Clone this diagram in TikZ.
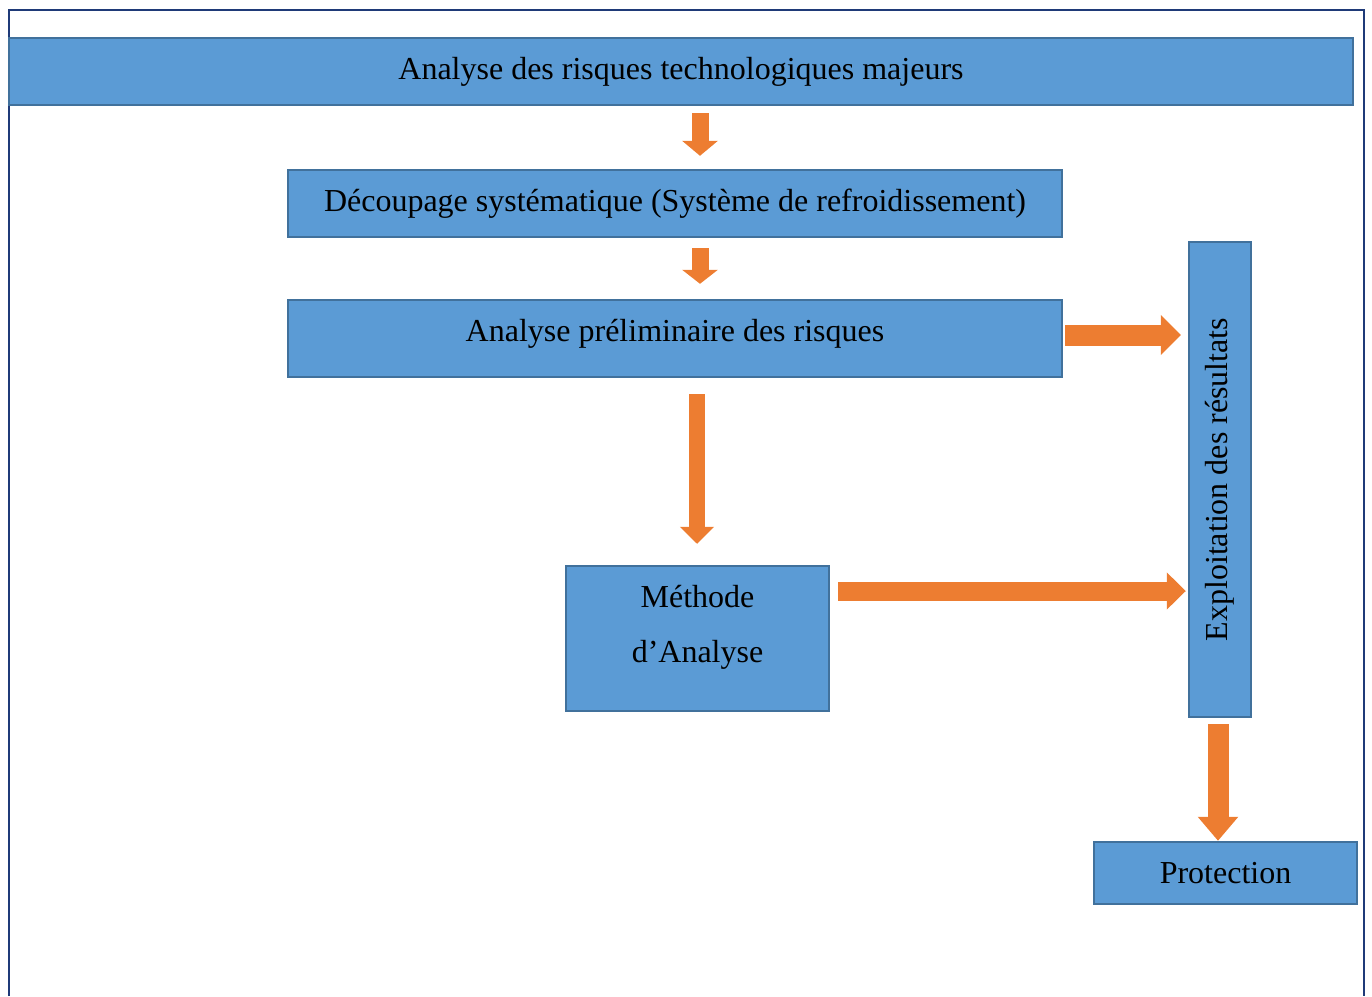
\documentclass[tikz,border=0pt]{standalone}
\usepackage{fontspec}
\setmainfont{Liberation Serif}
\usetikzlibrary{arrows.meta}
\definecolor{boxfill}{HTML}{5B9BD5}
\definecolor{boxline}{HTML}{41719C}
\definecolor{flow}{HTML}{ED7D31}
\definecolor{frameblue}{HTML}{1F3A78}
\begin{document}
\begin{tikzpicture}[x=1pt,y=-1pt,
  box/.style={draw=boxline, fill=boxfill, line width=2.4pt, rectangle, inner sep=0pt,
    font=\fontsize{32}{38}\selectfont, text=black},
  blockarrow/.style n args={3}{draw=flow, line width=#1, -{Triangle[width=#2,length=#3]}},
]
\useasboundingbox (0,0) rectangle (1372,996);
% outer frame, open at the bottom
\draw[frameblue, line width=2.5pt] (9,996) -- (9,10) -- (1364,10) -- (1364,996);

% boxes
\node[box, minimum width=1344pt, minimum height=67pt] (top) at (681,71.5)
  {\raisebox{1pt}{Analyse des risques technologiques majeurs}};
\node[box, minimum width=774pt, minimum height=67pt] (dec) at (675,203.5)
  {\raisebox{1pt}{Découpage systématique (Système de refroidissement)}};
\node[box, minimum width=774pt, minimum height=77pt] (apr) at (675,338.5)
  {\raisebox{-3pt}[0pt][0pt]{Analyse préliminaire des risques}};
\node[box, minimum width=263pt, minimum height=145pt, align=center] (meth) at (697.5,638.5)
  {\raisebox{5pt}[0pt][0pt]{\begin{tabular}{c}Méthode\\[17pt]d’Analyse\end{tabular}}};
\node[box, minimum width=62pt, minimum height=475pt] (expl) at (1220,479.5)
  {\rotatebox{90}{Exploitation des résultats}};
\node[box, minimum width=263pt, minimum height=62pt] (prot) at (1225.5,873)
  {Protection};

% flow arrows
\draw[blockarrow={17pt}{35pt}{15pt}, shorten <=7pt, shorten >=13pt]
  (top.south -| 700,0) -- (dec.north -| 700,0);
\draw[blockarrow={17pt}{35pt}{14pt}, shorten <=10pt, shorten >=15pt]
  (dec.south -| 700,0) -- (apr.north -| 700,0);
\draw[blockarrow={16pt}{33pt}{17pt}, shorten <=16pt, shorten >=21pt]
  (apr.south -| 697,0) -- (meth.north -| 697,0);
\draw[blockarrow={21pt}{39pt}{20pt}, shorten <=2pt, shorten >=7pt]
  (apr.east |- 0,335) -- (expl.west |- 0,335);
\draw[blockarrow={19pt}{36pt}{19pt}, shorten <=8pt, shorten >=2pt]
  (meth.east |- 0,591) -- (expl.west |- 0,591);
\draw[blockarrow={21pt}{39pt}{24pt}, shorten <=6pt, shorten >=0pt]
  (expl.south -| 1218,0) -- (prot.north -| 1218,0);
\end{tikzpicture}
\end{document}
